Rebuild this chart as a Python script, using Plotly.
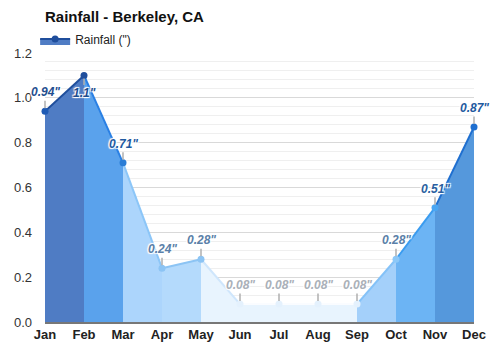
import plotly.graph_objects as go

months = ["Jan", "Feb", "Mar", "Apr", "May", "Jun", "Jul", "Aug", "Sep", "Oct", "Nov", "Dec"]
rainfall = [0.94, 1.1, 0.71, 0.24, 0.28, 0.08, 0.08, 0.08, 0.08, 0.28, 0.51, 0.87]

# per-segment (month i -> i+1) fill and line colours
seg_fill = ["#4f7cc4", "#5aa2ec", "#acd5fc", "#b4dafc", "#e8f4fe", "#e8f4fe",
            "#e8f4fe", "#e8f4fe", "#a4d0fa", "#6cb4f4", "#5598dc"]
seg_line = ["#1f4e9c", "#2a80e4", "#8cc6f8", "#8cc4f4", "#cfe6fc", "#fafcff",
            "#fafcff", "#fafcff", "#84c2f8", "#3a9cf0", "#1f6fd0"]
marker_colors = ["#1f5bb5", "#1f4e9c", "#2a7dd6", "#8cc4f4", "#8cc4f4", "#e4f1fd",
                 "#e4f1fd", "#e4f1fd", "#e4f1fd", "#8cc8f8", "#4aa6f2", "#1f6fd0"]
label_colors = ["#1f4e8f", "#1f4e8f", "#1f5aa0", "#5a7fa8", "#5a7fa8", "#aab0b8",
                "#aab0b8", "#aab0b8", "#aab0b8", "#5a7fa8", "#2a5fa0", "#1f5aa0"]

x = list(range(len(months)))
fig = go.Figure()

for i in range(len(months) - 1):
    fig.add_trace(go.Scatter(
        x=[x[i], x[i + 1]], y=[rainfall[i], rainfall[i + 1]],
        mode="lines", fill="tozeroy", fillcolor=seg_fill[i],
        line=dict(color=seg_line[i], width=2), showlegend=False,
        hoverinfo="skip", cliponaxis=False))

fig.add_trace(go.Scatter(
    x=x, y=rainfall, mode="markers",
    marker=dict(color=marker_colors, size=7),
    showlegend=False, cliponaxis=False))

# legend entry
fig.add_trace(go.Scatter(
    x=[None], y=[None], mode="lines+markers", fill="tozeroy",
    fillcolor="#4f7cc4", line=dict(color="#1f4e9c", width=2),
    marker=dict(color="#1f4e9c", size=7), name='Rainfall (")'))

shadow = "1px 1px 1px #fff, -1px -1px 1px #fff, 1px -1px 1px #fff, -1px 1px 1px #fff"
for i, v in enumerate(rainfall):
    above = v < 1.0
    fig.add_annotation(
        x=x[i], y=v, text=f'{v:g}"', showarrow=True, arrowhead=0,
        arrowwidth=1.5, arrowcolor="#b0b0b0", ax=0, ay=-19 if above else 18,
        standoff=3,
        font=dict(family="Liberation Sans, Arial", size=12, color=label_colors[i],
                  weight="bold", style="italic", shadow=shadow))

fig.update_layout(
    width=500, height=350,
    margin=dict(l=45, r=26, t=53, b=28, autoexpand=False),
    paper_bgcolor="white", plot_bgcolor="white",
    font=dict(family="Liberation Sans, Arial", size=13, color="#333"),
    title=dict(text="<b>Rainfall - Berkeley, CA</b>", x=0, xref="paper",
               xanchor="left", y=1 - 17 / 350, yanchor="middle",
               font=dict(size=15, color="#111")),
    legend=dict(x=-0.023, xanchor="left", yref="container", y=1 - 39 / 350,
                yanchor="middle", orientation="h", itemwidth=30,
                font=dict(size=12, color="#222"), bgcolor="rgba(0,0,0,0)"),
    showlegend=True,
)
fig.update_xaxes(
    range=[0, 11], tickmode="array", tickvals=x,
    ticktext=[f"<b>{m}</b>" for m in months],
    showgrid=False, zeroline=False, showline=True, linecolor="#777", linewidth=1.5,
    tickfont=dict(size=13, color="#222"), fixedrange=True)
fig.update_yaxes(
    range=[0, 1.2], dtick=0.2, tickformat=".1f", showgrid=True,
    gridcolor="#d9d9d9", gridwidth=1, zeroline=False,
    minor=dict(dtick=0.04, showgrid=True, gridcolor="#efefef", gridwidth=1),
    tickfont=dict(size=13, color="#333"), ticklabelstandoff=12, fixedrange=True)

fig.write_html("out.html")
